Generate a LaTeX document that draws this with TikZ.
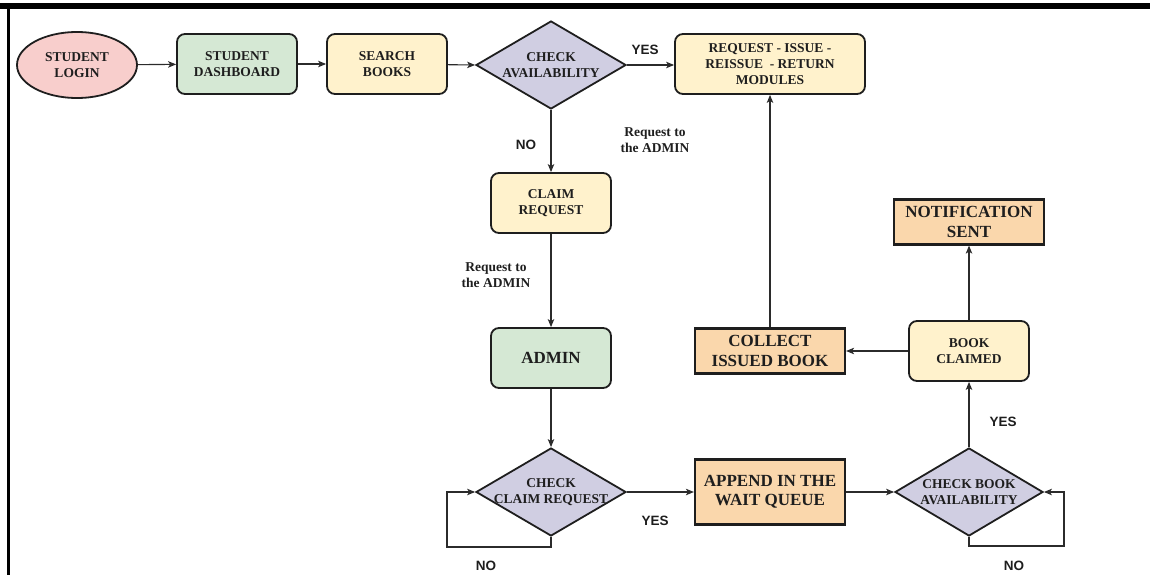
\documentclass[tikz,border=0pt]{standalone}
\usepackage{fontspec}
\setmainfont{Liberation Serif}
\newfontfamily\labsans{Liberation Sans}
\usetikzlibrary{shapes.geometric,arrows.meta}
\definecolor{pinkf}{HTML}{F8CECC}
\definecolor{greenf}{HTML}{D5E8D4}
\definecolor{yellowf}{HTML}{FFF2CC}
\definecolor{purplef}{HTML}{D0CEE2}
\definecolor{orangef}{HTML}{FAD7AC}
\definecolor{ink}{HTML}{1E1E1E}
\definecolor{wire}{HTML}{2B2B2B}
\tikzset{
  base/.style={draw=ink, line width=1.8pt, text=ink, align=center, inner sep=0pt, font=\bfseries\fontsize{13.5}{16}\selectfont},
  rbox/.style={base, rectangle, rounded corners=8pt, minimum width=120pt, minimum height=60pt},
  sbox/.style={base, rectangle, line width=2.2pt, fill=orangef, font=\bfseries\fontsize{17}{19.5}\selectfont},
  oval/.style={base, ellipse, fill=pinkf, minimum width=120pt, minimum height=66pt},
  decision/.style={base, diamond, fill=purplef, minimum width=150pt, minimum height=88pt},
  dtext/.style={text=ink, align=center, inner sep=0pt, font=\bfseries\fontsize{13.5}{16}\selectfont},
  conn/.style={draw=wire, line width=1.1pt, -{Stealth[length=8pt,width=6.5pt,inset=2pt]}},
  seg/.style={draw=wire, line width=1.1pt},
  yn/.style={text=ink, inner sep=0pt, font=\labsans\bfseries\fontsize{13.5}{15}\selectfont},
  lab/.style={text=ink, align=center, inner sep=0pt, font=\bfseries\fontsize{13.5}{16.5}\selectfont}
}
\begin{document}
\begin{tikzpicture}[x=1pt,y=-1pt]
\useasboundingbox (0,0) rectangle (1150,575);
\fill[black] (0,3) rectangle (1150,9);
\fill[black] (7,3) rectangle (9.5,575);

% row 1
\node[oval] (login) at (77,65) {STUDENT\\LOGIN};
\node[rbox, fill=greenf] (dash) at (237,64) {STUDENT\\DASHBOARD};
\node[rbox, fill=yellowf] (search) at (387,64) {SEARCH\\BOOKS};
\node[decision] (avail) at (551,65) {};
\node[dtext] at (avail.center) {CHECK\\AVAILABILITY};
\node[rbox, fill=yellowf, minimum width=190pt] (req) at (770,64) {REQUEST - ISSUE -\\REISSUE \ - RETURN\\MODULES};

% middle column
\node[rbox, fill=yellowf] (claim) at (551,203) {CLAIM\\REQUEST};
\node[rbox, fill=greenf, font=\bfseries\fontsize{17}{19.5}\selectfont] (admin) at (551,358) {ADMIN};

% bottom row
\node[decision] (ccr) at (551,492) {};
\node[dtext] at (ccr.center) {CHECK\\CLAIM REQUEST};
\node[sbox, minimum width=150pt, minimum height=65pt] (append) at (770,492) {APPEND IN THE\\WAIT QUEUE};
\node[decision, minimum width=148pt] (cba) at (969,492) {};
\node[dtext] at (cba.center) {CHECK BOOK\\AVAILABILITY};

% right column
\node[rbox, fill=yellowf] (claimed) at (969,351) {BOOK\\CLAIMED};
\node[sbox, minimum width=150pt, minimum height=45pt] (collect) at (770,351) {COLLECT\\ISSUED BOOK};
\node[sbox, minimum width=150pt, minimum height=45pt] (notif) at (969,222) {NOTIFICATION\\SENT};

% loop corners
\coordinate (l1) at (447,547);
\coordinate (l2) at (1064,546);

% connectors
\draw[conn] (login) -- (dash);
\draw[conn] (dash) -- (search);
\draw[conn] (search) -- (avail.west);
\draw[conn] (avail.east) -- (req.west |- avail.east);
\draw[conn] (avail.south) -- (claim.north);
\draw[conn] (claim.south) -- (admin.north);
\draw[conn] (admin.south) -- (ccr.north);
\draw[conn] (ccr.south) |- (l1) |- (ccr.west);
\draw[conn] (ccr.east) -- (append.west);
\draw[conn] (append.east) -- (cba.west);
\draw[conn] (cba.south) |- (l2) |- (cba.east);
\draw[conn] (cba.north) -- (claimed.south);
\draw[conn] (claimed.west) -- (collect.east);
\draw[conn] (claimed.north) -- (notif.south);
\draw[conn] (collect.north) -- (req.south);

% labels
\node[yn] (y1) at (645,50) {YES};
\node[yn] (n1) at (526,145) {NO};
\node[lab] (r1) at (655,140) {Request to\\the ADMIN};
\node[lab] (r2) at (496,275) {Request to\\the ADMIN};
\node[yn] (y2) at (655,521) {YES};
\node[yn] (n2) at (486,566) {NO};
\node[yn] (y3) at (1003,422) {YES};
\node[yn] (n3) at (1014,566) {NO};
\end{tikzpicture}
\end{document}
